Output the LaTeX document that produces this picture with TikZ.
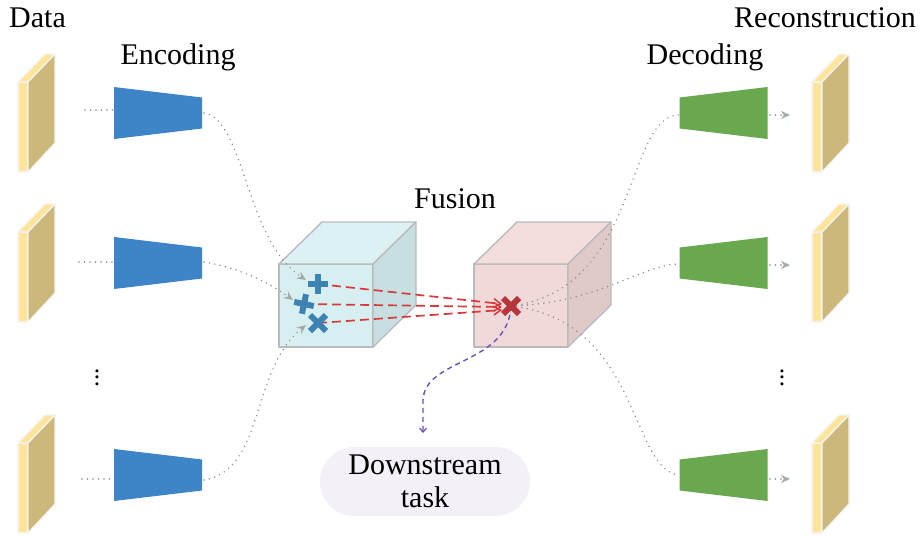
\documentclass[tikz,border=0pt]{standalone}
\usepackage{fontspec}
\setmainfont{Liberation Serif}
\usetikzlibrary{arrows.meta}
\definecolor{slabfront}{HTML}{FFE599}
\definecolor{slabside}{HTML}{CBB87A}
\definecolor{slabedge}{HTML}{F4F4F4}
\definecolor{encblue}{HTML}{3D85C6}
\definecolor{decgreen}{HTML}{6AA84F}
\definecolor{cyanfront}{HTML}{D8EFF1}
\definecolor{cyantop}{HTML}{DCF1F3}
\definecolor{cyanside}{HTML}{C8DFE1}
\definecolor{pinkfront}{HTML}{F1D9D9}
\definecolor{pinktop}{HTML}{F3DDDD}
\definecolor{pinkside}{HTML}{E0C9C9}
\definecolor{edgegray}{HTML}{BBBBBB}
\definecolor{dotgray}{HTML}{8A8A8A}
\definecolor{tipgray}{HTML}{A3ABAB}
\definecolor{crossblue}{HTML}{3C82B2}
\definecolor{crossred}{HTML}{B5363A}
\definecolor{linered}{HTML}{D63A3A}
\definecolor{purpleline}{HTML}{6B4FBB}
\definecolor{pillfill}{HTML}{F3F0F8}
\tikzset{
  lbl/.style={font=\fontsize{30}{33}\selectfont, inner sep=0pt},
  dotline/.style={dotgray, line width=1.6pt, dash pattern=on 0pt off 5.5pt, line cap=round},
  dotarrow/.style={dotline, -{Stealth[length=9pt,width=8pt,tipgray]}},
  reddash/.style={linered, line width=1.7pt, dash pattern=on 9pt off 5pt, -{Straight Barb[length=7pt,width=9pt,line width=1.5pt]}},
  purpledash/.style={purpleline, line width=1.4pt, dash pattern=on 5pt off 4pt, -{Straight Barb[length=4pt,width=7pt,line width=1.2pt]}},
  edgeline/.style={draw=edgegray, line width=1.4pt, line join=round},
  slabline/.style={draw=slabedge, line width=1.3pt, line join=round},
  slab/.pic={
    \fill[slabfront, slabline] (0,0) rectangle (10,90);
    \fill[slabfront, slabline] (0,0) -- (27,-28) -- (37,-28) -- (10,0) -- cycle;
    \fill[slabside, slabline] (10,0) -- (37,-28) -- (37,61) -- (10,90) -- cycle;
  },
  encoder/.pic={
    \fill[encblue] (-44,-26) -- (44,-15.5) -- (44,15.5) -- (-44,26) -- cycle;
  },
  decoder/.pic={
    \fill[decgreen] (-44,-15.5) -- (44,-26) -- (44,26) -- (-44,15.5) -- cycle;
  },
  plusmark/.pic={
    \draw[line width=6pt] (-10,0) -- (10,0) (0,-10) -- (0,10);
  },
  xmark/.pic={
    \draw[line width=6pt] (-8,-8) -- (8,8) (-8,8) -- (8,-8);
  },
}
\begin{document}
\begin{tikzpicture}[x=1pt,y=-1pt]
\useasboundingbox (0,0) rectangle (924,536);

% labels
\node[lbl, anchor=base] (tdata) at (37.5,27) {Data};
\node[lbl, anchor=base] (tenc) at (178,64) {Encoding};
\node[lbl, anchor=base] (tfus) at (455,208) {Fusion};
\node[lbl, anchor=base] (tdec) at (705,64) {Decoding};
\node[lbl, anchor=base] (trec) at (825,27) {Reconstruction};

% data slabs
\pic at (18,82) {slab};
\pic at (18,232) {slab};
\pic at (18,443) {slab};
% reconstruction slabs
\pic at (812,82) {slab};
\pic at (812,232) {slab};
\pic at (812,443) {slab};

% vertical dots
\node[inner sep=0pt, scale=1.6, font=\fontsize{16}{16}\selectfont] (vd1) at (97,373) {$\vdots$};
\node[inner sep=0pt, scale=1.6, font=\fontsize{16}{16}\selectfont] (vd2) at (782,373) {$\vdots$};

% encoders and decoders
\pic at (158,113) {encoder};
\pic at (158,263) {encoder};
\pic at (158,475) {encoder};
\pic at (723.5,113) {decoder};
\pic at (723.5,263) {decoder};
\pic at (723.5,475) {decoder};

\coordinate (d1) at (85,110);  \coordinate (e1i) at (114,110);
\coordinate (d2) at (79,262);  \coordinate (e2i) at (114,262);
\coordinate (d3) at (82,479);  \coordinate (e3i) at (114,479);
\coordinate (e1o) at (204,113);
\coordinate (e2o) at (204,262);
\coordinate (e3o) at (204,480);
\coordinate (g1i) at (679,115);
\coordinate (g2i) at (679,264);
\coordinate (g3i) at (679,475);
\coordinate (g1o) at (770,115); \coordinate (r1) at (790,115);
\coordinate (g2o) at (770,265); \coordinate (r2) at (790,265);
\coordinate (g3o) at (770,479); \coordinate (r3) at (790,479);

% cubes
\begin{scope}[shift={(279,264)}]
  \filldraw[cyanfront, edgeline] (0,0) rectangle (94,83);
  \filldraw[cyantop, edgeline] (0,0) -- (43,-42) -- (137,-42) -- (94,0) -- cycle;
  \filldraw[cyanside, edgeline] (94,0) -- (137,-42) -- (137,41) -- (94,83) -- cycle;
\end{scope}
\begin{scope}[shift={(474,264)}]
  \filldraw[pinkfront, edgeline] (0,0) rectangle (94,83);
  \filldraw[pinktop, edgeline] (0,0) -- (43,-42) -- (137,-42) -- (94,0) -- cycle;
  \filldraw[pinkside, edgeline] (94,0) -- (137,-42) -- (137,41) -- (94,83) -- cycle;
\end{scope}

\coordinate (c1) at (318,284);
\coordinate (c2) at (304,304);
\coordinate (c3) at (318,323);
\coordinate (cx) at (511,306);
\coordinate (c1a) at (306,280);
\coordinate (c2a) at (293,300);
\coordinate (c3a) at (306,325);

% dotted connectors
\draw[dotline] (d1) -- (e1i);
\draw[dotline] (d2) -- (e2i);
\draw[dotline] (d3) -- (e3i);
\draw[dotarrow] (e1o) .. controls (245,120) and (245,240) .. (c1a);
\draw[dotarrow] (e2o) .. controls (240,268) and (268,282) .. (c2a);
\draw[dotarrow] (e3o) .. controls (265,470) and (250,370) .. (c3a);
\draw[dotline] (cx) .. controls (640,290) and (625,115) .. (g1i);
\draw[dotline] (cx) .. controls (600,303) and (640,265) .. (g2i);
\draw[dotline] (cx) .. controls (640,320) and (630,470) .. (g3i);
\draw[dotarrow] (g1o) -- (r1);
\draw[dotarrow] (g2o) -- (r2);
\draw[dotarrow] (g3o) -- (r3);

% red dashed lines
\draw[reddash] (c1) -- (502,304);
\draw[reddash] (c2) -- (502,307);
\draw[reddash] (c3) -- (502,310);

% downstream task
\node[lbl, fill=pillfill, minimum width=210pt, minimum height=69pt, rounded corners=34.5pt, align=center] (task) at (425,481.5) {Downstream\\task};
\coordinate (tin) at (423,433);
\draw[purpledash] (cx) .. controls (508,365) and (425,358) .. (423,400) -- (tin);

% crosses
\pic[crossblue] at (c1) {plusmark};
\pic[crossblue, rotate=-12] at (c2) {plusmark};
\pic[crossblue] at (c3) {xmark};
\pic[crossred] at (cx) {xmark};
\end{tikzpicture}
\end{document}
